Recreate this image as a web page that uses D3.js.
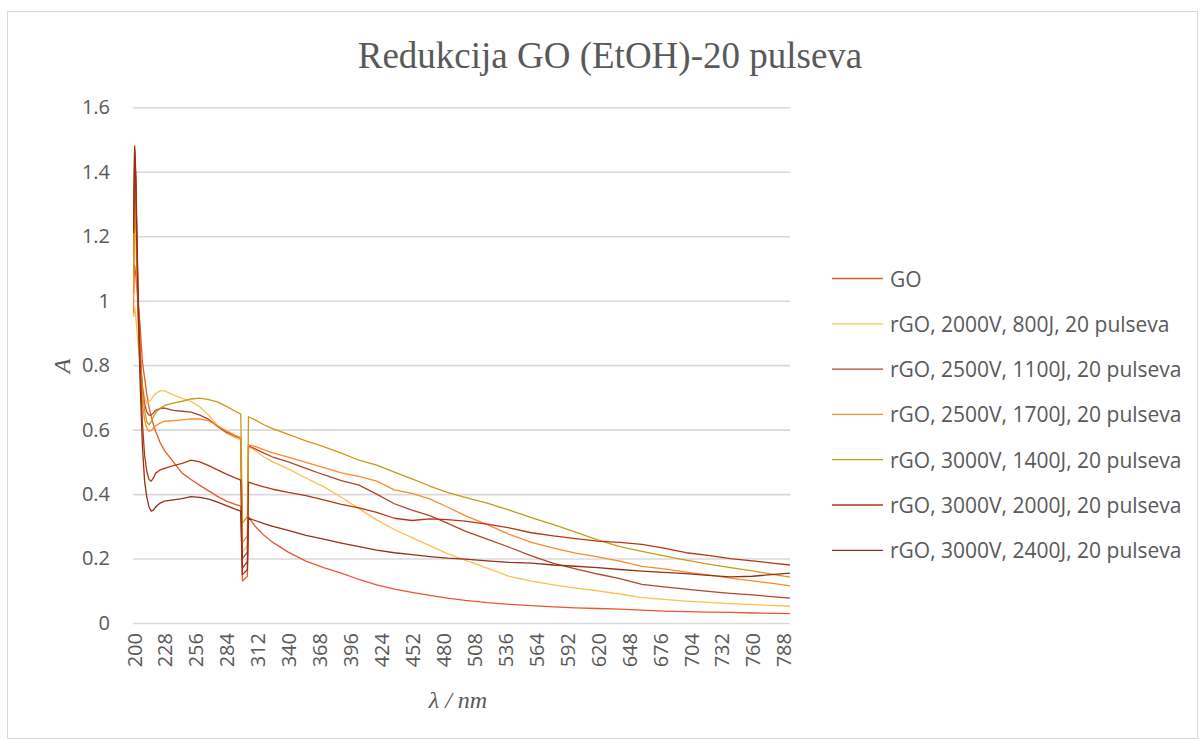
<!DOCTYPE html>
<html>
<head>
<meta charset="utf-8">
<script src="https://cdn.jsdelivr.net/npm/d3@7"></script>
<style>
  body { margin: 0; background: #fff; }
  svg { display: block; }
</style>
</head>
<body>
<svg id="chart" width="1200" height="740"></svg>
<script>
// ---- Data ----
const wavelengths = [200,201,202,203,204,206,208,210,212,214,216,218,220,224,228,236,244,252,260,268,276,284,292,297,298.5,303,304,310,318,326,340,356,372,388,404,420,436,452,468,484,500,520,540,560,580,600,620,640,660,680,700,720,740,760,780,794];

const seriesNames = [
  "GO",
  "rGO, 2000V, 800J, 20 pulseva",
  "rGO, 2500V, 1100J, 20 pulseva",
  "rGO, 2500V, 1700J, 20 pulseva",
  "rGO, 3000V, 1400J, 20 pulseva",
  "rGO, 3000V, 2000J, 20 pulseva",
  "rGO, 3000V, 2400J, 20 pulseva"
];
const seriesColors = ["#E9582C", "#FDBF4F", "#AE4630", "#FB8A2A", "#C99A16", "#B8360F", "#93301A"];

const valuesGO = [1.02,1.11,1.08,1.04,1.00,0.92,0.81,0.76,0.71,0.67,0.64,0.615,0.595,0.56,0.535,0.50,0.465,0.445,0.427,0.41,0.393,0.378,0.368,0.363,0.13,0.145,0.33,0.30,0.272,0.25,0.22,0.192,0.172,0.155,0.135,0.118,0.105,0.095,0.086,0.077,0.07,0.063,0.058,0.054,0.05,0.047,0.045,0.043,0.04,0.037,0.035,0.034,0.033,0.031,0.03,0.029];
const values2000V800J = [0.95,0.98,0.95,0.91,0.87,0.80,0.74,0.70,0.68,0.685,0.695,0.705,0.712,0.72,0.72,0.708,0.697,0.688,0.67,0.645,0.612,0.588,0.575,0.567,0.22,0.24,0.548,0.535,0.515,0.50,0.478,0.45,0.423,0.39,0.355,0.32,0.29,0.265,0.24,0.215,0.195,0.17,0.145,0.13,0.118,0.108,0.10,0.09,0.079,0.073,0.068,0.064,0.06,0.057,0.054,0.052];
const values2500V1100J = [1.12,1.46,1.36,1.18,1.02,0.84,0.73,0.68,0.655,0.645,0.645,0.652,0.66,0.665,0.667,0.66,0.657,0.654,0.645,0.632,0.61,0.592,0.58,0.573,0.20,0.22,0.55,0.54,0.527,0.515,0.50,0.48,0.46,0.442,0.428,0.40,0.37,0.35,0.333,0.31,0.285,0.26,0.235,0.208,0.185,0.168,0.152,0.138,0.12,0.112,0.105,0.098,0.092,0.087,0.081,0.077];
const values2500V1700J = [0.96,1.30,1.22,1.08,0.95,0.78,0.68,0.63,0.605,0.595,0.597,0.605,0.612,0.62,0.626,0.628,0.63,0.633,0.633,0.627,0.612,0.596,0.582,0.575,0.25,0.27,0.553,0.548,0.537,0.528,0.515,0.498,0.482,0.466,0.455,0.44,0.413,0.402,0.385,0.36,0.333,0.305,0.275,0.25,0.232,0.217,0.205,0.192,0.176,0.168,0.158,0.149,0.139,0.131,0.122,0.115];
const values3000V1400J = [1.08,1.42,1.33,1.15,1.00,0.83,0.72,0.66,0.625,0.615,0.625,0.64,0.652,0.666,0.675,0.682,0.688,0.695,0.698,0.693,0.686,0.672,0.657,0.648,0.31,0.33,0.64,0.63,0.615,0.603,0.585,0.565,0.547,0.527,0.505,0.49,0.468,0.447,0.425,0.405,0.39,0.372,0.35,0.327,0.305,0.282,0.258,0.237,0.222,0.208,0.195,0.183,0.172,0.162,0.15,0.142];
const values3000V2000J = [1.22,1.48,1.40,1.22,1.05,0.80,0.62,0.52,0.47,0.445,0.44,0.45,0.465,0.475,0.48,0.488,0.495,0.505,0.50,0.488,0.475,0.462,0.45,0.443,0.17,0.19,0.437,0.43,0.422,0.415,0.405,0.395,0.382,0.368,0.357,0.343,0.325,0.318,0.323,0.321,0.316,0.307,0.295,0.28,0.27,0.262,0.254,0.25,0.244,0.232,0.218,0.21,0.20,0.193,0.185,0.18];
const values3000V2400J = [1.21,1.47,1.38,1.18,1.00,0.74,0.55,0.44,0.39,0.36,0.347,0.35,0.36,0.372,0.378,0.382,0.386,0.392,0.39,0.384,0.375,0.364,0.353,0.347,0.15,0.165,0.325,0.318,0.308,0.30,0.287,0.272,0.26,0.248,0.237,0.226,0.218,0.212,0.206,0.201,0.198,0.193,0.188,0.186,0.18,0.176,0.172,0.166,0.161,0.157,0.153,0.148,0.143,0.145,0.151,0.155];

const xTickValues = d3.range(200, 789, 28);
const yTickValues = [0, 0.2, 0.4, 0.6, 0.8, 1.0, 1.2, 1.4, 1.6];

const seriesValues = [valuesGO, values2000V800J, values2500V1100J, values2500V1700J, values3000V1400J, values3000V2000J, values3000V2400J];

// ---- Layout ----
const svg = d3.select("#chart");
const plot = { left: 133, right: 790, top: 107.3, bottom: 623 };
const x = d3.scaleLinear().domain([199.5, 794]).range([plot.left, plot.right]);
const y = d3.scaleLinear().domain([0, 1.6]).range([plot.bottom, plot.top]);
const textColor = "#595959";
const sans = "'Open Sans', 'Noto Sans', sans-serif";
const serif = "'Liberation Serif', 'Times New Roman', serif";

// chart border
svg.append("rect").attr("x", 7.5).attr("y", 11.5).attr("width", 1190).attr("height", 727)
  .attr("fill", "none").attr("stroke", "#D9D9D9").attr("stroke-width", 1);

// title
svg.append("text").attr("x", 610).attr("y", 68).attr("text-anchor", "middle")
  .attr("font-family", serif).attr("font-size", 37).attr("fill", textColor)
  .text("Redukcija GO (EtOH)-20 pulseva");

// gridlines + y axis
const yAxis = d3.axisLeft(y).tickValues(yTickValues).tickSize(-(plot.right - plot.left))
  .tickPadding(23).tickFormat(d => d3.format("")(+d.toFixed(1)));
const gy = svg.append("g").attr("transform", `translate(${plot.left},0)`).call(yAxis);
gy.select(".domain").remove();
gy.selectAll(".tick line").attr("stroke", "#D9D9D9").attr("stroke-width", 1.6);
gy.selectAll(".tick text").attr("font-family", sans).attr("font-size", 20).attr("fill", textColor);

// x axis labels
const xAxis = d3.axisBottom(x).tickValues(xTickValues).tickSize(0).tickPadding(0);
const gx = svg.append("g").attr("transform", `translate(0,${plot.bottom})`).call(xAxis);
gx.select(".domain").remove();
gx.selectAll(".tick text")
  .attr("font-family", sans).attr("font-size", 20).attr("fill", textColor)
  .attr("text-anchor", "end").attr("dy", null).attr("y", 0)
  .attr("transform", "translate(0,10) rotate(-90)")
  .attr("dominant-baseline", "central");

// axis titles
svg.append("text").attr("x", 458).attr("y", 708).attr("text-anchor", "middle")
  .attr("font-family", serif).attr("font-style", "italic").attr("font-size", 24).attr("fill", textColor)
  .text("λ / nm");
svg.append("text").attr("transform", "translate(70,366) rotate(-90)").attr("text-anchor", "middle")
  .attr("font-family", serif).attr("font-style", "italic").attr("font-size", 24).attr("fill", textColor)
  .text("A");

// lines
const line = d3.line().x(d => x(d[0])).y(d => y(d[1]));
const clip = svg.append("clipPath").attr("id", "clip").append("rect")
  .attr("x", plot.left).attr("y", 0).attr("width", plot.right - plot.left).attr("height", plot.bottom + 2);
const gl = svg.append("g").attr("clip-path", "url(#clip)");
seriesValues.forEach((vals, i) => {
  const pts = wavelengths.map((w, j) => [w, vals[j]]);
  gl.append("path").datum(pts).attr("d", line)
    .attr("fill", "none").attr("stroke", seriesColors[i]).attr("stroke-width", 1.3)
    .attr("stroke-linejoin", "round");
});

// legend
const lg = svg.append("g");
seriesNames.forEach((name, i) => {
  const cy = 278.5 + i * 45.3;
  lg.append("line").attr("x1", 832).attr("x2", 883).attr("y1", cy).attr("y2", cy)
    .attr("stroke", seriesColors[i]).attr("stroke-width", 1.3);
  lg.append("text").attr("x", 890).attr("y", cy).attr("dominant-baseline", "central")
    .attr("font-family", sans).attr("font-size", 21).attr("fill", textColor).text(name);
});
</script>
</body>
</html>
